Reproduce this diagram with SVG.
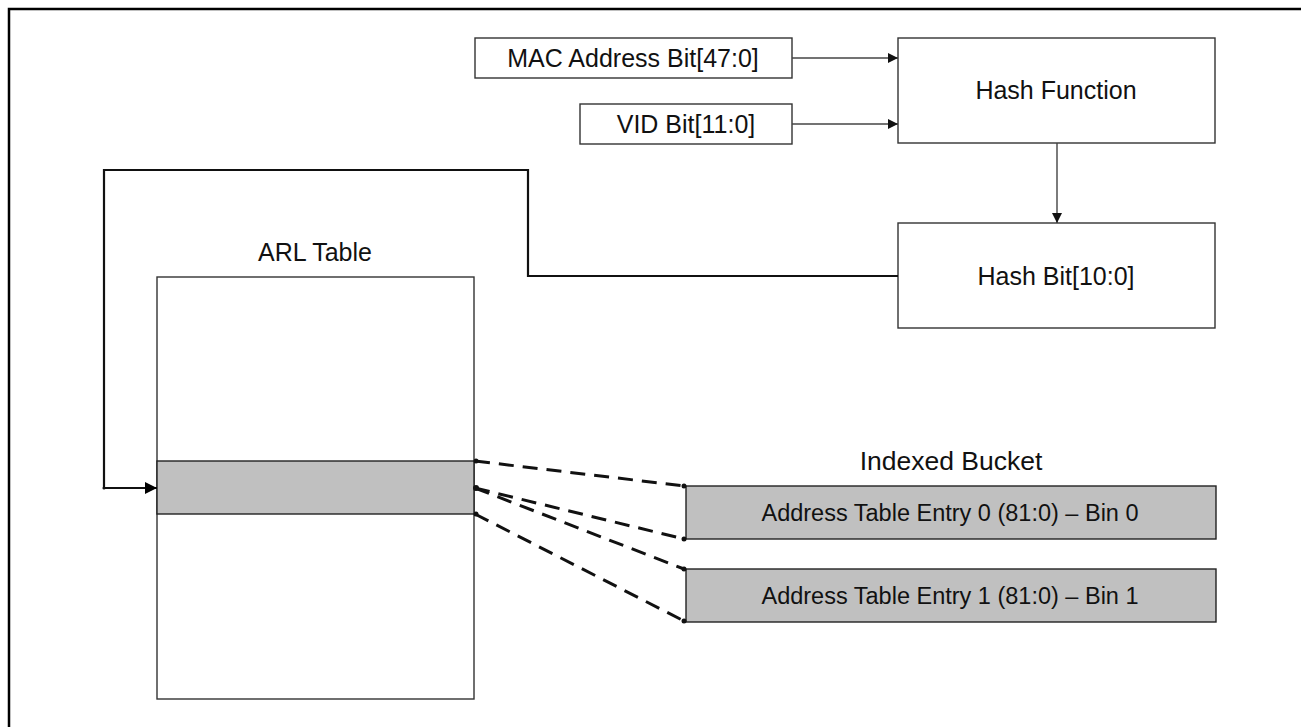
<svg xmlns="http://www.w3.org/2000/svg" width="1301" height="727" viewBox="0 0 1301 727">
<style>
.box{fill:#fff;stroke:#333;stroke-width:1.4}
.grey{fill:#c0c0c0;stroke:#222;stroke-width:1.4}
.t{font-family:"Liberation Sans",Arial,sans-serif;font-size:25px;fill:#111;text-anchor:middle}
.ts{font-family:"Liberation Sans",Arial,sans-serif;font-size:23.5px;fill:#111;text-anchor:middle}
.conn{fill:none;stroke:#444;stroke-width:1.4}
.thick{fill:none;stroke:#111;stroke-width:2.2}
.dash{fill:none;stroke:#111;stroke-width:3;stroke-dasharray:15 9}
.dot{fill:#111}
</style>
<defs>
<marker id="ah" viewBox="0 0 10 10" refX="10" refY="5" markerWidth="10" markerHeight="10" markerUnits="userSpaceOnUse" orient="auto">
<path d="M0,0 L10,5 L0,10 z" fill="#111"/>
</marker>
<marker id="ahb" viewBox="0 0 10 10" refX="10" refY="5" markerWidth="12" markerHeight="12" markerUnits="userSpaceOnUse" orient="auto">
<path d="M0,0 L10,5 L0,10 z" fill="#000"/>
</marker>
</defs>
<path d="M9,727 V9 H1301" fill="none" stroke="#000" stroke-width="2.5"/>

<g id="mac"><rect class="box" x="475" y="38" width="317" height="40"/><text class="t" x="633" y="67">MAC Address Bit[47:0]</text></g>
<g id="vid"><rect class="box" x="580" y="104" width="212" height="40"/><text class="t" x="686" y="133">VID Bit[11:0]</text></g>
<g id="hashfn"><rect class="box" x="898" y="38" width="317" height="105"/><text class="t" x="1056" y="99">Hash Function</text></g>
<g id="hashbit"><rect class="box" x="898" y="223" width="317" height="105"/><text class="t" x="1056" y="285">Hash Bit[10:0]</text></g>
<g id="arl">
<text class="t" x="315" y="261">ARL Table</text>
<rect class="box" x="157" y="277" width="317" height="422"/>
<rect class="grey" x="157" y="461" width="317" height="53"/>
</g>
<g id="bucket">
<text class="t" style="font-size:26.5px" x="951" y="470">Indexed Bucket</text>
</g>
<g id="entry0"><rect class="grey" x="686" y="486" width="530" height="53"/><text class="ts" x="950" y="521">Address Table Entry 0 (81:0) – Bin 0</text></g>
<g id="entry1"><rect class="grey" x="686" y="569" width="530" height="53"/><text class="ts" x="950" y="604">Address Table Entry 1 (81:0) – Bin 1</text></g>

<g id="connectors">
<path class="conn" d="M792,58 H898" marker-end="url(#ah)"/>
<path class="conn" d="M792,124 H898" marker-end="url(#ah)"/>
<path class="conn" d="M1057,143 V223" marker-end="url(#ah)"/>
<path class="thick" d="M898,276 H528 V170 H104 V488 H157" marker-end="url(#ahb)"/>
<path class="dash" d="M475,461 L684,486"/>
<path class="dash" d="M475,488 L684,539"/>
<path class="dash" d="M475,488 L684,569"/>
<path class="dash" d="M475,514 L684,621"/>
<circle class="dot" cx="476" cy="461" r="2.5"/>
<circle class="dot" cx="476" cy="488" r="3"/>
<circle class="dot" cx="476" cy="514" r="2.5"/>
<circle class="dot" cx="684" cy="486" r="2.5"/>
<circle class="dot" cx="684" cy="539" r="2.5"/>
<circle class="dot" cx="684" cy="569" r="2.5"/>
<circle class="dot" cx="684" cy="621" r="2.5"/>
<circle class="dot" cx="104" cy="488" r="1.5"/>
</g>
</svg>
